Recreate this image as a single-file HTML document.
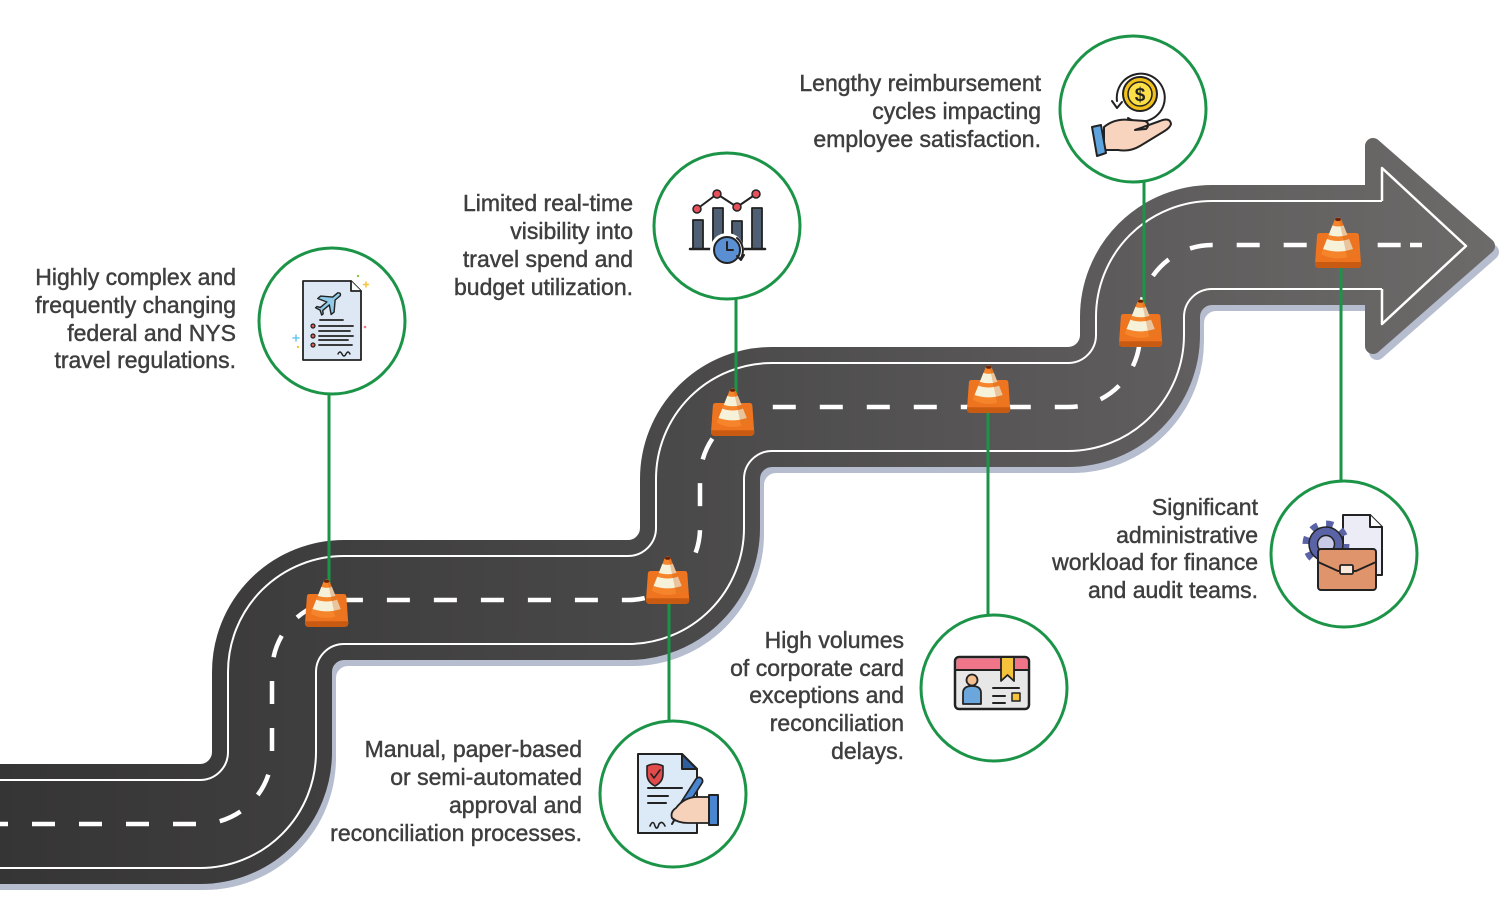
<!DOCTYPE html>
<html><head><meta charset="utf-8"><style>
html,body{margin:0;padding:0;background:#fff;}
svg{display:block;}
text{font-family:"Liberation Sans",Arial,sans-serif;font-size:23px;fill:#3e3e3e;}
.lbl text{stroke:#3e3e3e;stroke-width:0.45px;}
</style></head><body>
<svg width="1500" height="920" viewBox="0 0 1500 920" xmlns="http://www.w3.org/2000/svg">
<defs>
<linearGradient id="rg" gradientUnits="userSpaceOnUse" x1="0" y1="0" x2="1500" y2="0">
<stop offset="0" stop-color="#363535"/>
<stop offset="0.45" stop-color="#4a4949"/>
<stop offset="1" stop-color="#6d6a6a"/>
</linearGradient>
</defs>
<rect width="1500" height="920" fill="#fff"/>

<!-- shadow -->
<g transform="translate(4,6)" fill="none" stroke="#b5bdcf">
<path d="M-20 824 H200 A72 72 0 0 0 272 752 V672 A72 72 0 0 1 344 600 H628 A72 72 0 0 0 700 528 V479 A72 72 0 0 1 772 407 H1068 A72 72 0 0 0 1140 335 V317 A72 72 0 0 1 1212 245 H1382" stroke-width="120"/>
<polygon points="1373,146 1487,246 1373,346" fill="#b5bdcf" stroke-width="16" stroke-linejoin="round"/>
</g>

<!-- arrow head -->
<polygon points="1373,146 1487,246 1373,346" fill="url(#rg)" stroke="url(#rg)" stroke-width="16" stroke-linejoin="round"/>

<!-- road -->
<g fill="none">
<path d="M-20 824 H200 A72 72 0 0 0 272 752 V672 A72 72 0 0 1 344 600 H628 A72 72 0 0 0 700 528 V479 A72 72 0 0 1 772 407 H1068 A72 72 0 0 0 1140 335 V317 A72 72 0 0 1 1212 245 H1382" stroke="url(#rg)" stroke-width="120"/>
<path d="M-20 824 H200 A72 72 0 0 0 272 752 V672 A72 72 0 0 1 344 600 H628 A72 72 0 0 0 700 528 V479 A72 72 0 0 1 772 407 H1068 A72 72 0 0 0 1140 335 V317 A72 72 0 0 1 1212 245 H1382" stroke="#ffffff" stroke-width="90"/>
<path d="M-20 824 H200 A72 72 0 0 0 272 752 V672 A72 72 0 0 1 344 600 H628 A72 72 0 0 0 700 528 V479 A72 72 0 0 1 772 407 H1068 A72 72 0 0 0 1140 335 V317 A72 72 0 0 1 1212 245 H1383" stroke="url(#rg)" stroke-width="86"/>
<polyline points="1382,201 1382,168 1466,246 1382,324 1382,289" stroke="#fff" stroke-width="2.5" stroke-linejoin="round"/>
<path d="M-20 824 H200 A72 72 0 0 0 272 752 V672 A72 72 0 0 1 344 600 H628 A72 72 0 0 0 700 528 V479 A72 72 0 0 1 772 407 H1068 A72 72 0 0 0 1140 335 V317 A72 72 0 0 1 1212 245 H1424" stroke="#fff" stroke-width="4.5" stroke-dasharray="23 24" stroke-dashoffset="42"/>
<line x1="1410" y1="245" x2="1422" y2="245" stroke="#fff" stroke-width="4.5"/>
</g>

<!-- connector lines -->
<g stroke="#1b9447" stroke-width="3">
<line x1="329" y1="393" x2="329" y2="590"/>
<line x1="736" y1="298" x2="736" y2="400"/>
<line x1="1144" y1="181" x2="1144" y2="310"/>
<line x1="669" y1="600" x2="669" y2="722"/>
<line x1="988" y1="410" x2="988" y2="616"/>
<line x1="1341" y1="262" x2="1341" y2="483"/>
</g>

<!-- cones -->
<g transform="translate(305,578) scale(0.94)">
<path d="M5 17 H41 Q44 17 44 20 L46 48 Q46 52 42 52 H4 Q0 52 0 48 L2 20 Q2 17 5 17 Z" fill="#ee7420"/>
<path d="M0 46 H46 V48 Q46 52 42 52 H4 Q0 52 0 48 Z" fill="#c95a12"/>
<path d="M20 3 Q23 0 26 3 L40 38 Q23 47 6 38 Z" fill="#f5842a"/>
<path d="M17.4 9.5 Q23 11.5 28.6 9.5 L32.4 19 Q23 22 13.6 19 Z" fill="#f6f2da"/>
<path d="M12 23 Q23 27 34 23 L38 33 Q23 38 8 33 Z" fill="#f6f2da"/>
<path d="M26 3 L40 38 Q36 40 32 41 L24 3 Z" fill="#c9580f" opacity="0.3"/>
<ellipse cx="23" cy="3.5" rx="3" ry="1.6" fill="#6b2208"/>
</g>
<g transform="translate(646,555) scale(0.94)">
<path d="M5 17 H41 Q44 17 44 20 L46 48 Q46 52 42 52 H4 Q0 52 0 48 L2 20 Q2 17 5 17 Z" fill="#ee7420"/>
<path d="M0 46 H46 V48 Q46 52 42 52 H4 Q0 52 0 48 Z" fill="#c95a12"/>
<path d="M20 3 Q23 0 26 3 L40 38 Q23 47 6 38 Z" fill="#f5842a"/>
<path d="M17.4 9.5 Q23 11.5 28.6 9.5 L32.4 19 Q23 22 13.6 19 Z" fill="#f6f2da"/>
<path d="M12 23 Q23 27 34 23 L38 33 Q23 38 8 33 Z" fill="#f6f2da"/>
<path d="M26 3 L40 38 Q36 40 32 41 L24 3 Z" fill="#c9580f" opacity="0.3"/>
<ellipse cx="23" cy="3.5" rx="3" ry="1.6" fill="#6b2208"/>
</g>
<g transform="translate(711,387) scale(0.94)">
<path d="M5 17 H41 Q44 17 44 20 L46 48 Q46 52 42 52 H4 Q0 52 0 48 L2 20 Q2 17 5 17 Z" fill="#ee7420"/>
<path d="M0 46 H46 V48 Q46 52 42 52 H4 Q0 52 0 48 Z" fill="#c95a12"/>
<path d="M20 3 Q23 0 26 3 L40 38 Q23 47 6 38 Z" fill="#f5842a"/>
<path d="M17.4 9.5 Q23 11.5 28.6 9.5 L32.4 19 Q23 22 13.6 19 Z" fill="#f6f2da"/>
<path d="M12 23 Q23 27 34 23 L38 33 Q23 38 8 33 Z" fill="#f6f2da"/>
<path d="M26 3 L40 38 Q36 40 32 41 L24 3 Z" fill="#c9580f" opacity="0.3"/>
<ellipse cx="23" cy="3.5" rx="3" ry="1.6" fill="#6b2208"/>
</g>
<g transform="translate(967,364) scale(0.94)">
<path d="M5 17 H41 Q44 17 44 20 L46 48 Q46 52 42 52 H4 Q0 52 0 48 L2 20 Q2 17 5 17 Z" fill="#ee7420"/>
<path d="M0 46 H46 V48 Q46 52 42 52 H4 Q0 52 0 48 Z" fill="#c95a12"/>
<path d="M20 3 Q23 0 26 3 L40 38 Q23 47 6 38 Z" fill="#f5842a"/>
<path d="M17.4 9.5 Q23 11.5 28.6 9.5 L32.4 19 Q23 22 13.6 19 Z" fill="#f6f2da"/>
<path d="M12 23 Q23 27 34 23 L38 33 Q23 38 8 33 Z" fill="#f6f2da"/>
<path d="M26 3 L40 38 Q36 40 32 41 L24 3 Z" fill="#c9580f" opacity="0.3"/>
<ellipse cx="23" cy="3.5" rx="3" ry="1.6" fill="#6b2208"/>
</g>
<g transform="translate(1119,298) scale(0.94)">
<path d="M5 17 H41 Q44 17 44 20 L46 48 Q46 52 42 52 H4 Q0 52 0 48 L2 20 Q2 17 5 17 Z" fill="#ee7420"/>
<path d="M0 46 H46 V48 Q46 52 42 52 H4 Q0 52 0 48 Z" fill="#c95a12"/>
<path d="M20 3 Q23 0 26 3 L40 38 Q23 47 6 38 Z" fill="#f5842a"/>
<path d="M17.4 9.5 Q23 11.5 28.6 9.5 L32.4 19 Q23 22 13.6 19 Z" fill="#f6f2da"/>
<path d="M12 23 Q23 27 34 23 L38 33 Q23 38 8 33 Z" fill="#f6f2da"/>
<path d="M26 3 L40 38 Q36 40 32 41 L24 3 Z" fill="#c9580f" opacity="0.3"/>
<ellipse cx="23" cy="3.5" rx="3" ry="1.6" fill="#6b2208"/>
</g>
<g transform="translate(1315,216)">
<path d="M5 17 H41 Q44 17 44 20 L46 48 Q46 52 42 52 H4 Q0 52 0 48 L2 20 Q2 17 5 17 Z" fill="#ee7420"/>
<path d="M0 46 H46 V48 Q46 52 42 52 H4 Q0 52 0 48 Z" fill="#c95a12"/>
<path d="M20 3 Q23 0 26 3 L40 38 Q23 47 6 38 Z" fill="#f5842a"/>
<path d="M17.4 9.5 Q23 11.5 28.6 9.5 L32.4 19 Q23 22 13.6 19 Z" fill="#f6f2da"/>
<path d="M12 23 Q23 27 34 23 L38 33 Q23 38 8 33 Z" fill="#f6f2da"/>
<path d="M26 3 L40 38 Q36 40 32 41 L24 3 Z" fill="#c9580f" opacity="0.3"/>
<ellipse cx="23" cy="3.5" rx="3" ry="1.6" fill="#6b2208"/>
</g>

<!-- circles -->
<g fill="#fff" stroke="#1b9447" stroke-width="3">
<circle cx="332" cy="321" r="73"/>
<circle cx="727" cy="226" r="73"/>
<circle cx="1133" cy="109" r="73"/>
<circle cx="673" cy="794" r="73"/>
<circle cx="994" cy="688" r="73"/>
<circle cx="1344" cy="554" r="73"/>
</g>

<!-- icon 1: document with plane -->
<g stroke="#222" stroke-width="1.8" stroke-linejoin="round" stroke-linecap="round">
<path d="M303 281 H351 L361 291 V360 H303 Z" fill="#dde8f4"/>
<path d="M351 281 V291 H361" fill="#fff"/>
<path transform="translate(331,301) rotate(-40) scale(0.95)" d="M-13,-2 L-4,-2 L-9,-11 L-5,-11 L4,-2 L11,-2 Q14,0 11,2 L4,2 L-5,11 L-9,11 L-4,2 L-13,2 L-15,5 L-17,5 L-15,0 L-17,-5 L-15,-5 Z" fill="#8fcbe8" stroke-width="1.5"/>
<line x1="320" y1="320" x2="343" y2="320"/>
<line x1="319" y1="326" x2="353" y2="326"/>
<line x1="319" y1="331" x2="350" y2="331"/>
<line x1="319" y1="336" x2="353" y2="336"/>
<line x1="319" y1="340" x2="348" y2="340"/>
<line x1="319" y1="345" x2="352" y2="345"/>
<circle cx="313" cy="326" r="2" fill="#e05a5a" stroke-width="1.2"/>
<circle cx="313" cy="336" r="2" fill="#e05a5a" stroke-width="1.2"/>
<circle cx="313" cy="345" r="2" fill="#e05a5a" stroke-width="1.2"/>
<path d="M338 354 q2 -4 4 0 t4 0 t4 0" fill="none" stroke-width="1.4"/>
</g>
<g stroke-width="1.5" stroke-linecap="round">
<path d="M296 335 v6 M293 338 h6" stroke="#6cc4ee"/>
<path d="M366 282 v5 M363.5 284.5 h5" stroke="#f5c23c"/>
<circle cx="358" cy="276" r="1.2" fill="#8bc34a"/>
<circle cx="365" cy="327" r="1.3" fill="#f07589"/>
<circle cx="298" cy="347" r="1.2" fill="#f5c23c"/>
</g>

<!-- icon 2: chart with clock -->
<g stroke="#222" stroke-width="1.8" stroke-linejoin="round" stroke-linecap="round">
<rect x="693" y="220" width="10" height="29" fill="#4f6075"/>
<rect x="713" y="208" width="10" height="41" fill="#4f6075"/>
<rect x="732" y="221" width="10" height="28" fill="#4f6075"/>
<rect x="752" y="208" width="10" height="41" fill="#4f6075"/>
<line x1="690" y1="249" x2="765" y2="249" stroke-width="2.5"/>
<polyline points="697,209 717,194 737,207 756,194" fill="none" stroke-width="2"/>
<circle cx="697" cy="209" r="4" fill="#e8505b" stroke-width="1.5"/>
<circle cx="717" cy="194" r="4" fill="#e8505b" stroke-width="1.5"/>
<circle cx="737" cy="207" r="4" fill="#e8505b" stroke-width="1.5"/>
<circle cx="756" cy="194" r="4" fill="#e8505b" stroke-width="1.5"/>
<circle cx="727" cy="250" r="17" fill="#fff" stroke="none"/>
<circle cx="727" cy="250" r="13" fill="#5a8fd4" stroke-width="2"/>
<path d="M727 250 V242 M727 250 H733" fill="none" stroke-width="2"/>
<path d="M737 238 A16 16 0 0 1 741 258" fill="none" stroke-width="2"/>
<path d="M737 256 L741 260 L744 255" fill="none" stroke-width="2"/>
</g>

<!-- icon 3: hand with coin -->
<g stroke="#222" stroke-width="2" stroke-linejoin="round" stroke-linecap="round">
<path d="M1128 118 A24 24 0 1 0 1117 101" fill="none"/>
<path d="M1112 101 L1117 108 L1122 102" fill="none"/>
<circle cx="1140" cy="94" r="17" fill="#f2c21b"/>
<circle cx="1140" cy="94" r="12" fill="#fde047" stroke-width="1.5"/>
<path d="M1104 127 Q1115 118 1130 120 L1145 121 Q1151 124 1146 129 L1135 130 L1160 121 Q1170 117 1171 124 Q1170 128 1163 132 L1140 146 Q1130 152 1118 150 L1104 150 Z" fill="#f8d3bd"/>
<polygon points="1092,127 1101,125 1106,153 1097,156" fill="#5ea4de"/>
</g>
<text x="1140" y="101" text-anchor="middle" style="font-size:19px;font-weight:bold;fill:#222">$</text>

<!-- icon 4: document signing -->
<g stroke="#222" stroke-width="2" stroke-linejoin="round" stroke-linecap="round">
<path d="M638 754 H682 L697 769 V833 H638 Z" fill="#dce9f6"/>
<path d="M682 754 V769 H697 Z" fill="#2f5f9e"/>
<path d="M647 766 Q655 762 663 766 V774 Q663 782 655 786 Q647 782 647 774 Z" fill="#e24b4b" stroke-width="1.6"/>
<polyline points="651,774 654,778 660,770" fill="none" stroke-width="1.6"/>
<line x1="648" y1="788" x2="682" y2="788"/>
<line x1="648" y1="796" x2="668" y2="796"/>
<line x1="648" y1="803" x2="666" y2="803"/>
<path d="M650 826 q3 -7 5 0 q2 5 4 -2 q3 -4 6 2" fill="none" stroke-width="1.6"/>
<line x1="699" y1="781" x2="676" y2="817" stroke-width="9"/>
<line x1="699" y1="781" x2="676" y2="817" stroke="#4a86d0" stroke-width="5.5"/>
<path d="M676 817 L672 824" stroke-width="2"/>
<path d="M676 808 Q685 796 700 797 L710 797 L710 823 L688 823 Q678 823 672 818 Q670 812 676 808 Z" fill="#f6d2bb" stroke-width="1.8"/>
<rect x="709" y="795" width="9" height="30" fill="#4a86d0"/>
</g>

<!-- icon 5: id card -->
<g stroke="#222" stroke-width="2" stroke-linejoin="round" stroke-linecap="round">
<rect x="955" y="657" width="74" height="52" rx="4" fill="#e7e7e7" stroke-width="2.5"/>
<path d="M956.5 670 V661 Q956.5 658.5 959 658.5 H1025 Q1027.5 658.5 1027.5 661 V670 Z" fill="#f07589" stroke="none"/>
<line x1="956" y1="670" x2="1028" y2="670"/>
<path d="M1001 658 V681 L1007.5 675 L1014 681 V658" fill="#f5c23c" stroke-width="1.8"/>
<circle cx="972" cy="680" r="5.5" fill="#f4bf8e" stroke-width="1.8"/>
<path d="M963 704 V693 Q963 686 972 686 Q981 686 981 693 V704 Z" fill="#6ba7dc" stroke-width="1.8"/>
<line x1="993" y1="688" x2="1019" y2="688"/>
<line x1="993" y1="696" x2="1005" y2="696"/>
<line x1="993" y1="703" x2="1005" y2="703"/>
<rect x="1012" y="693" width="8" height="8" fill="#f5c23c" stroke-width="1.5"/>
</g>

<!-- icon 6: gear, doc, briefcase -->
<g stroke="#222" stroke-width="2" stroke-linejoin="round" stroke-linecap="round">
<path d="M1343 515 H1370 L1382 527 V575 H1343 Z" fill="#ececf6"/>
<path d="M1370 515 V527 H1382" fill="#fff"/>
<circle cx="1326" cy="544" r="20" fill="none" stroke="#5a63a6" stroke-width="7" stroke-dasharray="7 8.7" stroke-linecap="butt"/>
<circle cx="1326" cy="544" r="17" fill="#5a63a6" stroke-width="1.5"/>
<circle cx="1326" cy="544" r="8.5" fill="#c9c9e8" stroke-width="1.5"/>
<rect x="1318" y="549" width="58" height="41" rx="3" fill="#e0946c"/>
<path d="M1318 562 L1338 571 H1356 L1376 562" fill="none"/>
<rect x="1340" y="565" width="13" height="9" rx="1.5" fill="#fbe9dc" stroke-width="1.8"/>
</g>

<!-- texts -->
<g text-anchor="end" class="lbl">
<text x="236" y="285">Highly complex and</text>
<text x="236" y="313">frequently changing</text>
<text x="236" y="341">federal and NYS</text>
<text x="236" y="368">travel regulations.</text>

<text x="633" y="211">Limited real-time</text>
<text x="633" y="239">visibility into</text>
<text x="633" y="267">travel spend and</text>
<text x="633" y="295">budget utilization.</text>

<text x="1041" y="91">Lengthy reimbursement</text>
<text x="1041" y="119">cycles impacting</text>
<text x="1041" y="147">employee satisfaction.</text>

<text x="582" y="757">Manual, paper-based</text>
<text x="582" y="785">or semi-automated</text>
<text x="582" y="813">approval and</text>
<text x="582" y="841">reconciliation processes.</text>

<text x="904" y="648">High volumes</text>
<text x="904" y="676">of corporate card</text>
<text x="904" y="703">exceptions and</text>
<text x="904" y="731">reconciliation</text>
<text x="904" y="759">delays.</text>

<text x="1258" y="515">Significant</text>
<text x="1258" y="543">administrative</text>
<text x="1258" y="570">workload for finance</text>
<text x="1258" y="598">and audit teams.</text>
</g>
</svg>
</body></html>
